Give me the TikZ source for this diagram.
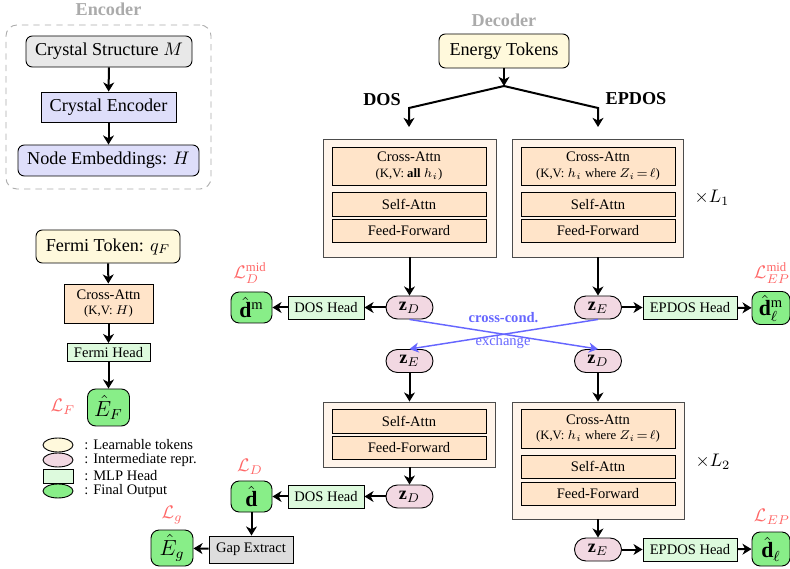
\documentclass[tikz,border=0pt]{standalone}
\usepackage{fontspec}
\setmainfont{Liberation Serif}
\usetikzlibrary{arrows.meta,shapes.geometric}
\newdimen\pxu \pxu=0.55pt
\definecolor{csgray}{HTML}{E8E8E8}
\definecolor{lav}{HTML}{DEDEFA}
\definecolor{tok}{HTML}{FFF9DC}
\definecolor{peach}{HTML}{FFE4C9}
\definecolor{blockbg}{HTML}{FFF4EA}
\definecolor{pinkz}{HTML}{F2D8E2}
\definecolor{mlp}{HTML}{DDFADD}
\definecolor{outg}{HTML}{88EE88}
\definecolor{gapg}{HTML}{DDDDDD}
\definecolor{lossred}{HTML}{FF6666}
\definecolor{xblue}{HTML}{6666FF}
\definecolor{titlegray}{HTML}{ABABAB}
\tikzset{
  base/.style={draw, line width=0.5pt, inner sep=1pt, align=center},
  rbox/.style={base, rounded corners=3.5pt},
  sbox/.style={base},
  attn/.style={base, fill=peach, minimum width=154\pxu, font=\footnotesize},
  outer/.style={draw=black!70, line width=0.5pt, fill=blockbg, minimum width=172\pxu},
  zbox/.style={base, fill=pinkz, rounded corners=6.3pt, minimum width=47\pxu, minimum height=23\pxu},
  head/.style={base, fill=mlp, font=\footnotesize, minimum height=23\pxu},
  outbox/.style={base, fill=outg, rounded corners=4.5pt, font=\large},
  loss/.style={text=lossred, inner sep=0pt},
  ttl/.style={text=titlegray, font=\bfseries, inner sep=0pt},
  arr/.style={line width=1.1pt, -{Stealth[length=5pt,width=6pt,inset=1.5pt]}},
  xarr/.style={line width=0.8pt, draw=xblue, -{Stealth[length=5pt,width=5.5pt,inset=1.5pt]}},
  legtxt/.style={anchor=west, font=\footnotesize, inner sep=0pt},
}
\begin{document}
\begin{tikzpicture}[x=\pxu, y=-\pxu]
\useasboundingbox (0,0) rectangle (790,569);

% ---------------- Encoder ----------------
\node[ttl] (enctitle) at (108.5,9) {Encoder};
\node[draw=titlegray, dashed, dash pattern=on 3.5pt off 2.8pt, line width=0.5pt, rounded corners=6pt,
      minimum width=205\pxu, minimum height=164\pxu] (encframe) at (108.5,107) {};
\node[rbox, fill=csgray, minimum width=166\pxu, minimum height=31\pxu] (cs) at (109,51.5) {Crystal Structure $M$};
\node[sbox, fill=lav, minimum width=135\pxu, minimum height=30\pxu] (ce) at (108.5,107) {Crystal Encoder};
\node[rbox, fill=lav, minimum width=181\pxu, minimum height=31\pxu] (ne) at (108.5,160.5) {Node Embeddings: $H$};
\draw[arr] (cs) -- (ce);
\draw[arr] (ce) -- (ne);

% ---------------- Fermi branch ----------------
\node[rbox, fill=tok, minimum width=144\pxu, minimum height=33\pxu] (ft) at (108,246.5) {Fermi Token: $q_F$};
\node[sbox, fill=peach, minimum width=89\pxu, minimum height=39\pxu, font=\footnotesize] (fca) at (108.5,303.5)
   {Cross-Attn\\[-1pt]{\scriptsize (K,V: $H$)}};
\node[head, minimum width=83\pxu, minimum height=18\pxu] (fh) at (108.5,352.5) {Fermi Head};
\node[outbox, minimum width=42\pxu, minimum height=37\pxu] (ef) at (108.5,407.5) {$\hat{E}_F$};
\node[loss] (lf) at (63,407) {$\mathcal{L}_F$};
\draw[arr] (ft) -- (fca);
\draw[arr] (fca) -- (fh);
\draw[arr] (fh) -- (ef);

% ---------------- Legend ----------------
\node[ellipse, draw, line width=0.5pt, fill=tok, minimum width=30\pxu, minimum height=14\pxu, inner sep=0pt] (lg1) at (58,445) {};
\node[ellipse, draw, line width=0.5pt, fill=pinkz, minimum width=30\pxu, minimum height=14\pxu, inner sep=0pt] (lg2) at (58,460) {};
\node[draw, line width=0.5pt, fill=mlp, minimum width=30\pxu, minimum height=14\pxu, inner sep=0pt] (lg3) at (58,476) {};
\node[ellipse, draw, line width=0.5pt, fill=outg, minimum width=30\pxu, minimum height=14\pxu, inner sep=0pt] (lg4) at (58,491) {};
\node[legtxt] (lt1) at (84,445) {: Learnable tokens};
\node[legtxt] (lt2) at (84,460) {: Intermediate repr.};
\node[legtxt] (lt3) at (84,476) {: MLP Head};
\node[legtxt] (lt4) at (84,491) {: Final Output};

% ---------------- Decoder ----------------
\node[ttl] (dectitle) at (504,20) {Decoder};
\node[rbox, fill=tok, minimum width=130\pxu, minimum height=34\pxu] (et) at (504,51) {Energy Tokens};
\coordinate (split) at (504,86);
\coordinate (lk) at (409,108);
\coordinate (rk) at (598,108);
\coordinate (lend) at (409,127);
\coordinate (rend) at (598,127);
\draw[arr] (et) -- (split);
\draw[arr] (split) -- (lk) -- (lend);
\draw[arr] (split) -- (rk) -- (rend);
\node[font=\bfseries, inner sep=0pt] (dos) at (382,100) {DOS};
\node[font=\bfseries, inner sep=0pt] (epdos) at (636,99) {EPDOS};

% block 1 (DOS, first L1 layers)
\node[outer, minimum width=173\pxu, minimum height=118\pxu] (b1) at (409.5,198) {};
\node[attn, minimum height=38\pxu] (b1ca) at (409,166) {Cross-Attn\\[-1pt]{\scriptsize (K,V: \textbf{all} $h_i$)}};
\node[attn, minimum height=24\pxu] (b1sa) at (409,204) {Self-Attn};
\node[attn, minimum height=23\pxu] (b1ff) at (409,230.5) {Feed-Forward};

% block 2 (EPDOS, first L1 layers)
\node[outer, minimum width=171\pxu, minimum height=118\pxu] (b2) at (597.5,198) {};
\node[attn, minimum height=38\pxu] (b2ca) at (598,166) {Cross-Attn\\[-1pt]{\scriptsize (K,V: $h_i$ where $Z_i\!=\!\ell$)}};
\node[attn, minimum height=24\pxu] (b2sa) at (598,204) {Self-Attn};
\node[attn, minimum height=23\pxu] (b2ff) at (598,230.5) {Feed-Forward};
\node[inner sep=0pt] (l1) at (712,198) {$\times L_1$};

% mid outputs
\node[zbox] (zd1) at (409.5,307.5) {$\mathbf{z}_D$};
\node[zbox] (ze1) at (598,307.5) {$\mathbf{z}_E$};
\node[head, minimum width=76\pxu] (dh1) at (326,307.5) {DOS Head};
\node[outbox, minimum width=41\pxu, minimum height=31\pxu] (dm) at (251.5,307.5) {$\hat{\mathbf{d}}^{\mathrm{m}}$};
\node[head, minimum width=94\pxu] (eh1) at (690,307.5) {EPDOS Head};
\node[outbox, minimum width=38\pxu, minimum height=33\pxu] (dlm) at (771,308) {$\hat{\mathbf{d}}^{\mathrm{m}}_{\ell}$};
\node[loss] (ldmid) at (250,273) {$\mathcal{L}_D^{\mathrm{mid}}$};
\node[loss] (lepmid) at (772,273) {$\mathcal{L}_{EP}^{\mathrm{mid}}$};
\draw[arr] (b1) -- (zd1);
\draw[arr] (zd1) -- (dh1);
\draw[arr] (dh1) -- (dm);
\draw[arr] (b2.south -| ze1) -- (ze1);
\draw[arr] (ze1) -- (eh1);
\draw[arr] (eh1) -- (dlm);

% cross conditioning
\node[zbox] (ze2) at (409.5,361) {$\mathbf{z}_E$};
\node[zbox] (zd2) at (598,361) {$\mathbf{z}_D$};
\draw[xarr] (zd1.south) -- (zd2.north);
\draw[xarr] (ze1.south) -- (ze2.north);
\node[text=xblue, font=\footnotesize\bfseries, inner sep=0pt] (cc) at (503.5,318) {cross-cond.};
\node[text=xblue, font=\footnotesize, inner sep=0pt] (ex) at (503,342) {exchange};

% block 3 (DOS, L2)
\node[outer, minimum height=65\pxu] (b3) at (409,434.5) {};
\node[attn, minimum height=24\pxu] (b3sa) at (409,421) {Self-Attn};
\node[attn, minimum height=23\pxu] (b3ff) at (409,447.5) {Feed-Forward};
\draw[arr] (ze2) -- (b3.north -| ze2);
\node[zbox] (zd3) at (409.5,496.5) {$\mathbf{z}_D$};
\node[head, minimum width=76\pxu] (dh2) at (326,496.5) {DOS Head};
\node[outbox, minimum width=41\pxu, minimum height=31\pxu] (dfin) at (251.5,496.5) {$\hat{\mathbf{d}}$};
\node[loss] (ld) at (250,467) {$\mathcal{L}_D$};
\node[base, fill=gapg, font=\footnotesize, minimum width=84\pxu, minimum height=27\pxu] (gap) at (251,549.5) {Gap Extract};
\node[outbox, minimum width=42\pxu, minimum height=36\pxu] (eg) at (172,548) {$\hat{E}_g$};
\node[loss] (lg) at (172,515) {$\mathcal{L}_g$};
\draw[arr] (b3.south -| zd3) -- (zd3);
\draw[arr] (zd3) -- (dh2);
\draw[arr] (dh2) -- (dfin);
\draw[arr] (dfin) -- (gap.north -| dfin);
\draw[arr] (gap) -- (eg);

% block 4 (EPDOS, L2)
\node[outer, minimum height=117\pxu] (b4) at (598,460.5) {};
\node[attn, minimum height=39\pxu] (b4ca) at (598,428.5) {Cross-Attn\\[-1pt]{\scriptsize (K,V: $h_i$ where $Z_i\!=\!\ell$)}};
\node[attn, minimum height=23\pxu] (b4sa) at (598,466.5) {Self-Attn};
\node[attn, minimum height=23\pxu] (b4ff) at (598,493.5) {Feed-Forward};
\node[inner sep=0pt] (l2) at (713,462) {$\times L_2$};
\draw[arr] (zd2) -- (b4);
\node[zbox] (ze3) at (598,549.5) {$\mathbf{z}_E$};
\node[head, minimum width=94\pxu] (eh2) at (690,549.5) {EPDOS Head};
\node[outbox, minimum width=38\pxu, minimum height=34\pxu] (dl) at (771,549) {$\hat{\mathbf{d}}_{\ell}$};
\node[loss] (lep) at (772,517) {$\mathcal{L}_{EP}$};
\draw[arr] (b4) -- (ze3);
\draw[arr] (ze3) -- (eh2);
\draw[arr] (eh2) -- (dl);
\end{tikzpicture}
\end{document}
